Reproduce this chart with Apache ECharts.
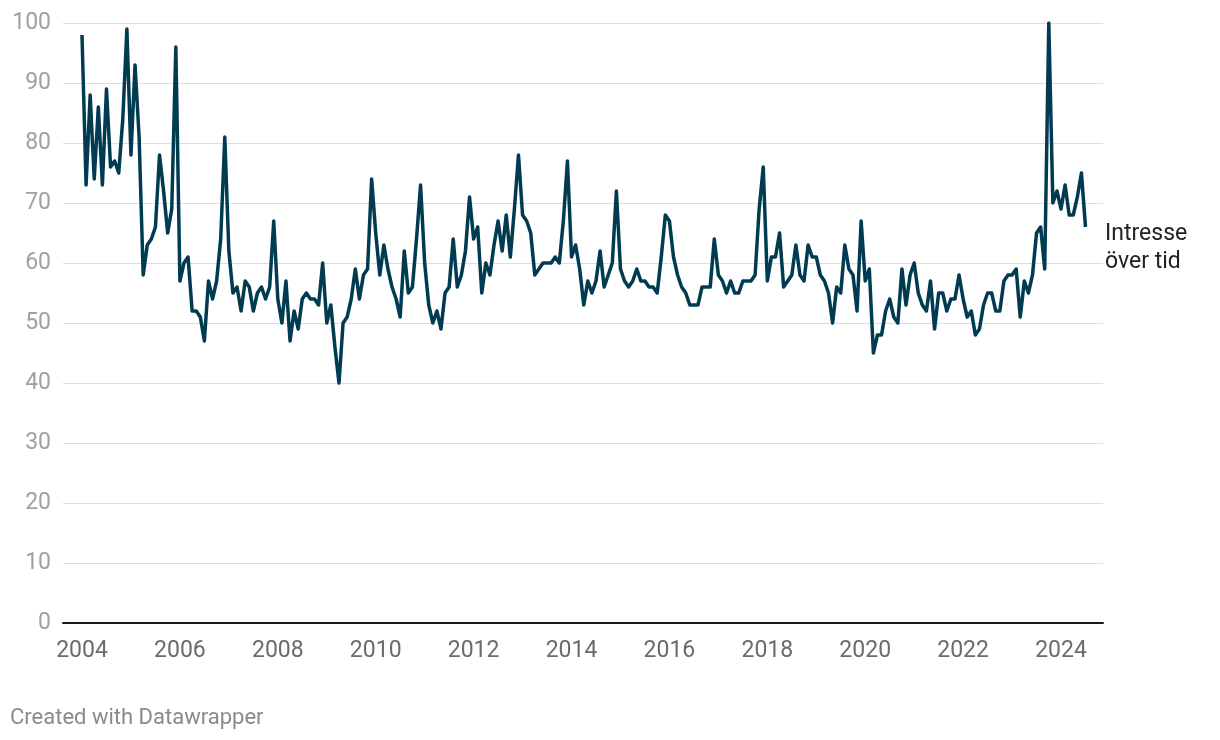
<!DOCTYPE html>
<html><head><meta charset="utf-8">
<script src="https://cdn.jsdelivr.net/npm/echarts@6.0.0/dist/echarts.min.js"></script>
<style>html,body{margin:0;padding:0;background:#fff}#c{width:1220px;height:740px}</style>
</head><body><div id="c"></div>
<script>
// Monthly values, Jan 2004 – Jul 2024
const startYear = 2004;
const v2004 = [98,73,88,74,86,73,89,76,77,75,84,99];
const v2005 = [78,93,81,58,63,64,66,78,72,65,69,96];
const v2006 = [57,60,61,52,52,51,47,57,54,57,64,81];
const v2007 = [62,55,56,52,57,56,52,55,56,54,56,67];
const v2008 = [54,50,57,47,52,49,54,55,54,54,53,60];
const v2009 = [50,53,46,40,50,51,54,59,54,58,59,74];
const v2010 = [65,58,63,59,56,54,51,62,55,56,64,73];
const v2011 = [60,53,50,52,49,55,56,64,56,58,62,71];
const v2012 = [64,66,55,60,58,63,67,62,68,61,69,78];
const v2013 = [68,67,65,58,59,60,60,60,61,60,67,77];
const v2014 = [61,63,59,53,57,55,57,62,56,58,60,72];
const v2015 = [59,57,56,57,59,57,57,56,56,55,61,68];
const v2016 = [67,61,58,56,55,53,53,53,56,56,56,64];
const v2017 = [58,57,55,57,55,55,57,57,57,58,69,76];
const v2018 = [57,61,61,65,56,57,58,63,58,57,63,61];
const v2019 = [61,58,57,55,50,56,55,63,59,58,52,67];
const v2020 = [57,59,45,48,48,52,54,51,50,59,53,58];
const v2021 = [60,55,53,52,57,49,55,55,52,54,54,58];
const v2022 = [54,51,52,48,49,53,55,55,52,52,57,58];
const v2023 = [58,59,51,57,55,58,65,66,59,100,70,72];
const v2024 = [69,73,68,68,71,75,66];
const yearlyValues = [v2004,v2005,v2006,v2007,v2008,v2009,v2010,v2011,v2012,v2013,v2014,v2015,v2016,v2017,v2018,v2019,v2020,v2021,v2022,v2023,v2024];

const yTicks = [0,10,20,30,40,50,60,70,80,90,100];
const xTickLabels = ['2004','2006','2008','2010','2012','2014','2016','2018','2020','2022','2024'];
const seriesLabel = ['Intresse', 'över tid'];
const footerText = 'Created with Datawrapper';

const data = [];
yearlyValues.forEach((arr, yi) => {
  arr.forEach((v, m) => data.push([startYear + yi + m / 12, v]));
});
const xMin = Number(xTickLabels[0]);
const xMax = data[data.length - 1][0];

const chart = echarts.init(document.getElementById('c'), null, {renderer: 'canvas'});
chart.setOption({
  animation: false,
  backgroundColor: '#ffffff',
  textStyle: {fontFamily: 'Roboto'},
  grid: [
    {left: 63, right: 117, top: 23, bottom: 117},
    {left: 82, right: 134.5, top: 23, bottom: 117}
  ],
  xAxis: [
    {gridIndex: 0, type: 'value', min: 0, max: 1,
     axisLine: {show: true, lineStyle: {color: '#1a1a1a', width: 2}},
     axisTick: {show: false}, axisLabel: {show: false}, splitLine: {show: false}},
    {gridIndex: 1, type: 'value', min: xMin, max: xMax, interval: 2,
     axisLine: {show: false}, axisTick: {show: false}, splitLine: {show: false},
     axisLabel: {color: '#6b6b6b', fontSize: 23, fontFamily: 'Roboto', margin: 17, showMaxLabel: false,
       formatter: v => xTickLabels.includes(String(v)) ? String(v) : ''}}
  ],
  yAxis: [
    {gridIndex: 0, type: 'value', min: yTicks[0], max: yTicks[yTicks.length - 1], interval: 10,
     axisLine: {show: false}, axisTick: {show: false},
     axisLabel: {color: '#a0a0a0', fontSize: 23, fontFamily: 'Roboto', margin: 12},
     splitLine: {lineStyle: {color: '#dedede', width: 1}}},
    {gridIndex: 1, type: 'value', min: yTicks[0], max: yTicks[yTicks.length - 1], interval: 10, show: false}
  ],
  series: [{
    type: 'line', xAxisIndex: 1, yAxisIndex: 1, data: data,
    showSymbol: false, silent: true, z: 5,
    lineStyle: {color: '#003b52', width: 3.5, join: 'round'}
  }],
  graphic: [
    {type: 'text', left: 1105, top: 220, silent: true,
     style: {text: seriesLabel.join('\n'), fontSize: 23, lineHeight: 28, fill: '#222222', fontFamily: 'Roboto'}},
    {type: 'text', left: 10, top: 707, silent: true,
     style: {text: footerText, fontSize: 22, fill: '#8a8a8a', fontFamily: 'Roboto'}}
  ]
});
</script>
</body></html>
